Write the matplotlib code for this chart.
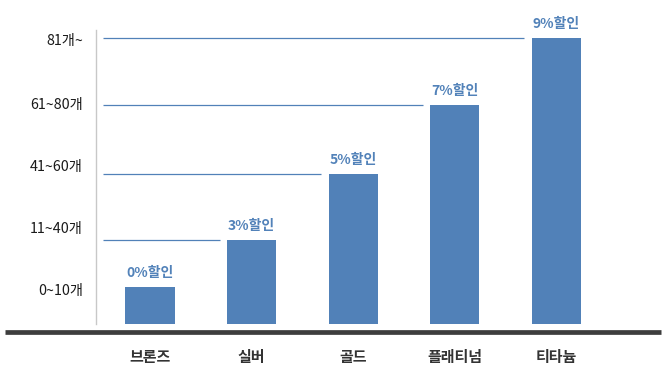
import matplotlib
matplotlib.use("Agg")
import matplotlib.pyplot as plt
from matplotlib.lines import Line2D

plt.rcParams['font.family'] = ['Noto Sans CJK KR', 'DejaVu Sans']

categories = ['브론즈', '실버', '골드', '플래티넘', '티타늄']
values = [37, 84, 150, 219, 286]
labels = ['0%할인', '3%할인', '5%할인', '7%할인', '9%할인']
tick_pos = [34, 96, 158, 220, 284]
tick_labels = ['0~10개', '11~40개', '41~60개', '61~80개', '81개~']

W, H = 666, 384
fig = plt.figure(figsize=(W / 100, H / 100), dpi=100)
ax = fig.add_axes([96 / W, 1 - 324 / H, (661 - 96) / W, (324 - 30) / H])

bar_color = '#5181b8'
x = list(range(len(categories)))
width = 0.483
ax.bar(x, values, width=width, color=bar_color, zorder=2)

xmin = -0.532
ax.set_xlim(xmin, 5.034)
ax.set_ylim(0, 294)

# guide lines from axis to just before the bar of that level
for i in range(1, len(values)):
    ax.hlines(values[i], xmin + 0.07, i - width / 2 - 0.072, color=bar_color, lw=0.9, zorder=1)

for i, (v, lab) in enumerate(zip(values, labels)):
    ax.annotate(lab, (i, v), xytext=(0, 5), textcoords='offset points',
                ha='center', va='bottom', fontsize=10, fontweight='bold', color='#5282b9')

ax.set_yticks(tick_pos)
ax.set_yticklabels(tick_labels, fontsize=10.3, color='#1a1a1a')
ax.tick_params(axis='y', length=0, pad=9.5)
ax.set_xticks(x)
ax.set_xticklabels(categories, fontsize=10.8, fontweight='bold', color='#333333')
ax.tick_params(axis='x', length=0, pad=18)

for s in ['top', 'right', 'bottom']:
    ax.spines[s].set_visible(False)
ax.spines['left'].set_color('#c8c8c8')
ax.spines['left'].set_linewidth(1.0)

fig.add_artist(Line2D([5 / W, 661 / W], [1 - 331.5 / H] * 2, lw=3.4, color='#3d3d3d',
                      solid_capstyle='butt'))

fig.savefig('out.png', dpi=100)
